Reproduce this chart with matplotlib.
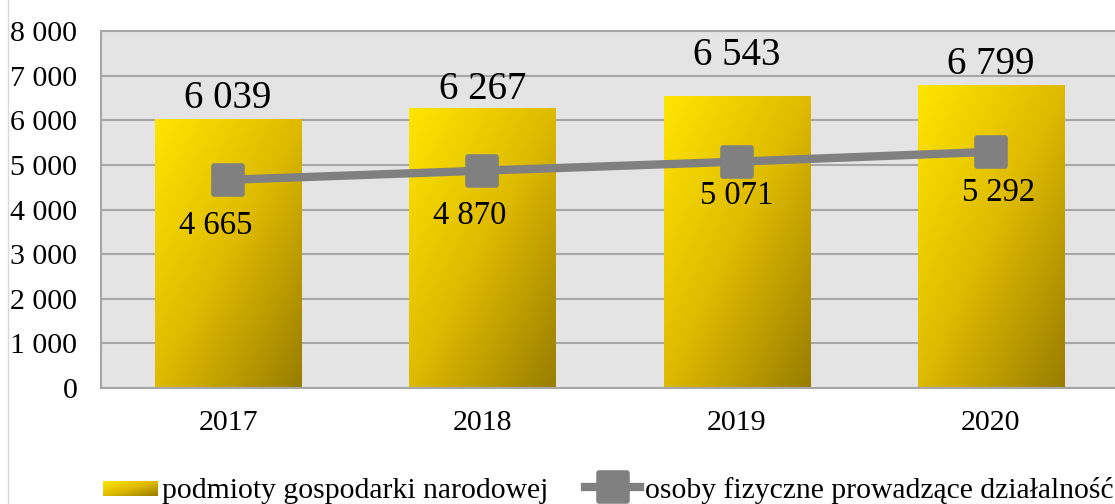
import numpy as np
import matplotlib
matplotlib.use("Agg")
import matplotlib.pyplot as plt
from matplotlib.colors import LinearSegmentedColormap
from matplotlib.markers import MarkerStyle
from matplotlib.legend_handler import HandlerBase
from matplotlib.image import BboxImage
from matplotlib.transforms import Bbox, TransformedBbox
from matplotlib.lines import Line2D
from matplotlib.patches import Patch

years = ["2017", "2018", "2019", "2020"]
podmioty = [6039, 6267, 6543, 6799]
osoby = [4665, 4870, 5071, 5292]
bar_name = "podmioty gospodarki narodowej"
line_name = "osoby fizyczne prowadzące działalność"

plt.rcParams["font.family"] = ["Liberation Serif", "DejaVu Serif"]

gold = LinearSegmentedColormap.from_list(
    "gold", [(1.0, 0.90, 0.0), (0.87, 0.73, 0.0), (0.60, 0.49, 0.0)])


def gradient(n=200):
    u, v = np.meshgrid(np.linspace(0, 1, n), np.linspace(0, 1, n))
    return (u + v) / 2  # top-left bright, bottom-right dark (origin upper)


class GradientHandler(HandlerBase):
    def create_artists(self, legend, orig_handle, xdescent, ydescent,
                       width, height, fontsize, trans):
        bb = Bbox.from_bounds(-xdescent, -ydescent + height * 0.05, width, height * 0.72)
        img = BboxImage(TransformedBbox(bb, trans), cmap=gold, interpolation="bilinear")
        img.set_data(gradient(50))
        img.set_clim(0, 1)
        return [img]


fig = plt.figure(figsize=(11.15, 5.04), dpi=100)
ax = fig.add_axes([101 / 1115, 1 - 388 / 504, 1017 / 1115, 357 / 504])
ax.set_facecolor("#e4e4e4")

x = np.arange(len(years))
bars = ax.bar(x, podmioty, width=0.575, color="none", zorder=2)
for b in bars:
    x0, y0 = b.get_x(), b.get_y()
    im = ax.imshow(gradient(), cmap=gold, vmin=0, vmax=1, aspect="auto",
                   extent=[x0, x0 + b.get_width(), y0, y0 + b.get_height()],
                   origin="upper", zorder=2, interpolation="bilinear")
    im.set_clip_path(b)

ax.plot(x, osoby, color="#808080", lw=6,
        marker=MarkerStyle("s", joinstyle="round"), markersize=20,
        mec="#808080", mew=4, zorder=3)

bar_off = [0.45, 0.42, 0.9, 0.45]
for i, v in enumerate(podmioty):
    ax.text(x[i], v + bar_off[i] * 1000, f"{v:,}".replace(",", " "),
            ha="center", va="center", fontsize=28)
line_off = [1.02, 1.0, 0.77, 0.92]
line_dx = [-0.05, -0.05, 0.0, 0.03]
for i, v in enumerate(osoby):
    ax.text(x[i] + line_dx[i], v - line_off[i] * 1000, f"{v:,}".replace(",", " "),
            ha="center", va="center", fontsize=23.5)

ax.set_xlim(-0.5, 3.5)
ax.set_ylim(0, 8000)
ax.set_yticks(range(0, 8001, 1000))
ax.set_yticklabels([f"{t:,}".replace(",", " ") for t in range(0, 8001, 1000)])
ax.set_xticks(x)
ax.set_xticklabels(years)
ax.tick_params(axis="both", length=0, labelsize=21.5)
ax.tick_params(axis="y", pad=17)
ax.tick_params(axis="x", pad=16)
ax.grid(axis="y", color="#a6a6a6", lw=1.5, zorder=1)
ax.set_axisbelow(True)
for s in ax.spines.values():
    s.set_color("#a6a6a6")
    s.set_linewidth(1.5)

fig.add_artist(Line2D([8 / 1115, 8 / 1115], [0, 1], color="#d9d9d9", lw=1))

handles = [Patch(), Line2D([], [], color="#808080", lw=6,
                           marker=MarkerStyle("s", joinstyle="round"), markersize=20,
                           mec="#808080", mew=4)]
fig.legend(handles, [bar_name, line_name], loc="center left",
           bbox_to_anchor=(103 / 1115, 1 - 490 / 504), ncol=2, frameon=False,
           fontsize=21.3, handlelength=1.85, handletextpad=0.15, columnspacing=1.25,
           borderpad=0, borderaxespad=0,
           handler_map={Patch: GradientHandler()})

fig.savefig("out.png", dpi=100)
